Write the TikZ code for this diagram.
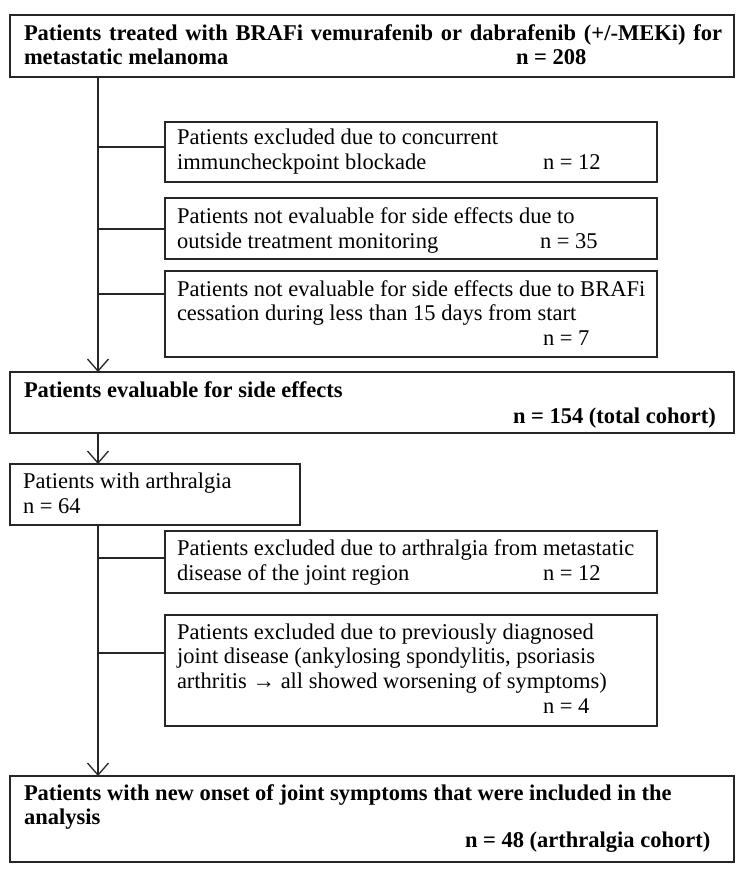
\documentclass[tikz,border=0pt]{standalone}
\usepackage{fontspec}
\setmainfont{Liberation Serif}
\usetikzlibrary{arrows.meta}
\tikzset{
  box/.style={draw=black!85, line width=1.3pt, inner sep=0pt, outer sep=0pt, anchor=north west, fill=white},
  ln/.style={draw=black!85, line width=1.3pt},
  arr/.style={ln, -{Straight Barb[length=12pt, width=21pt, line width=1.3pt]}},
  txt/.style={anchor=base west, inner sep=0pt, outer sep=0pt, font=\fontsize{22.5}{24.5}\selectfont},
  btxt/.style={txt, font=\fontsize{22.5}{24.5}\selectfont\bfseries},
}
\newcommand{\mybox}[5]{\node[box, minimum width=#4-#2, minimum height=#5-#3] (#1) at (#2,#3) {};}
\begin{document}
\begin{tikzpicture}[x=1pt, y=-1pt]
\useasboundingbox (0,0) rectangle (750,877);
\coordinate (trunk) at (98,0);
% boxes
\mybox{b1}{10}{15}{734}{77}
\mybox{b2}{165}{122}{657}{182}
\mybox{b3}{165}{198}{657}{259}
\mybox{b4}{165}{271}{657}{357}
\mybox{b5}{10}{372}{734}{433}
\mybox{b6}{10}{464}{300}{525}
\mybox{b7}{165}{531}{657}{593}
\mybox{b8}{165}{615}{657}{726}
\mybox{b9}{10}{776}{734}{862}
% texts
\node[btxt] (t1a) at (24,41) {\makebox[698pt][s]{Patients treated with BRAFi vemurafenib or dabrafenib (+/-MEKi) for}};
\node[btxt] (t1b) at (24,65) {metastatic melanoma};
\node[btxt] (t1n) at (516,65) {n = 208};
\node[txt] (t2a) at (177,145) {Patients excluded due to concurrent};
\node[txt] (t2b) at (177,170) {immuncheckpoint blockade};
\node[txt] (t2n) at (543,170) {n = 12};
\node[txt] (t3a) at (177,223) {Patients not evaluable for side effects due to};
\node[txt] (t3b) at (177,248) {outside treatment monitoring};
\node[txt] (t3n) at (540,248) {n = 35};
\node[txt] (t4a) at (177,296) {Patients not evaluable for side effects due to BRAFi};
\node[txt] (t4b) at (177,320) {cessation during less than 15 days from start};
\node[txt] (t4n) at (543,345) {n = 7};
\node[btxt] (t5a) at (24,397) {Patients evaluable for side effects};
\node[btxt] (t5n) at (513,423) {n = 154 (total cohort)};
\node[txt] (t6a) at (23,488) {Patients with arthralgia};
\node[txt] (t6n) at (23,513) {n = 64};
\node[txt] (t7a) at (177,555) {Patients excluded due to arthralgia from metastatic};
\node[txt] (t7b) at (177,580) {disease of the joint region};
\node[txt] (t7n) at (543,580) {n = 12};
\node[txt] (t8a) at (177,639) {Patients excluded due to previously diagnosed};
\node[txt] (t8b) at (177,663) {joint disease (ankylosing spondylitis, psoriasis};
\node[txt] (t8c) at (177,688) {arthritis → all showed worsening of symptoms)};
\node[txt] (t8n) at (543,713) {n = 4};
\node[btxt] (t9a) at (24,800) {Patients with new onset of joint symptoms that were included in the};
\node[btxt] (t9b) at (24,824) {analysis};
\node[btxt] (t9n) at (465,847) {n = 48 (arthralgia cohort)};
% junction points on box edges
\coordinate (j2) at ([yshift=-25pt]b2.north west);
\coordinate (j3) at ([yshift=-31pt]b3.north west);
\coordinate (j4) at ([yshift=-23pt]b4.north west);
\coordinate (j7) at ([yshift=-27pt]b7.north west);
\coordinate (j8) at ([yshift=-38pt]b8.north west);
% connectors
\draw[arr] (b1.south -| trunk) -- (b5.north -| trunk);
\draw[ln] (j2) -- (trunk |- j2);
\draw[ln] (j3) -- (trunk |- j3);
\draw[ln] (j4) -- (trunk |- j4);
\draw[arr] (b5.south -| trunk) -- (b6.north -| trunk);
\draw[arr] (b6.south -| trunk) -- (b9.north -| trunk);
\draw[ln] (j7) -- (trunk |- j7);
\draw[ln] (j8) -- (trunk |- j8);
\end{tikzpicture}
\end{document}
